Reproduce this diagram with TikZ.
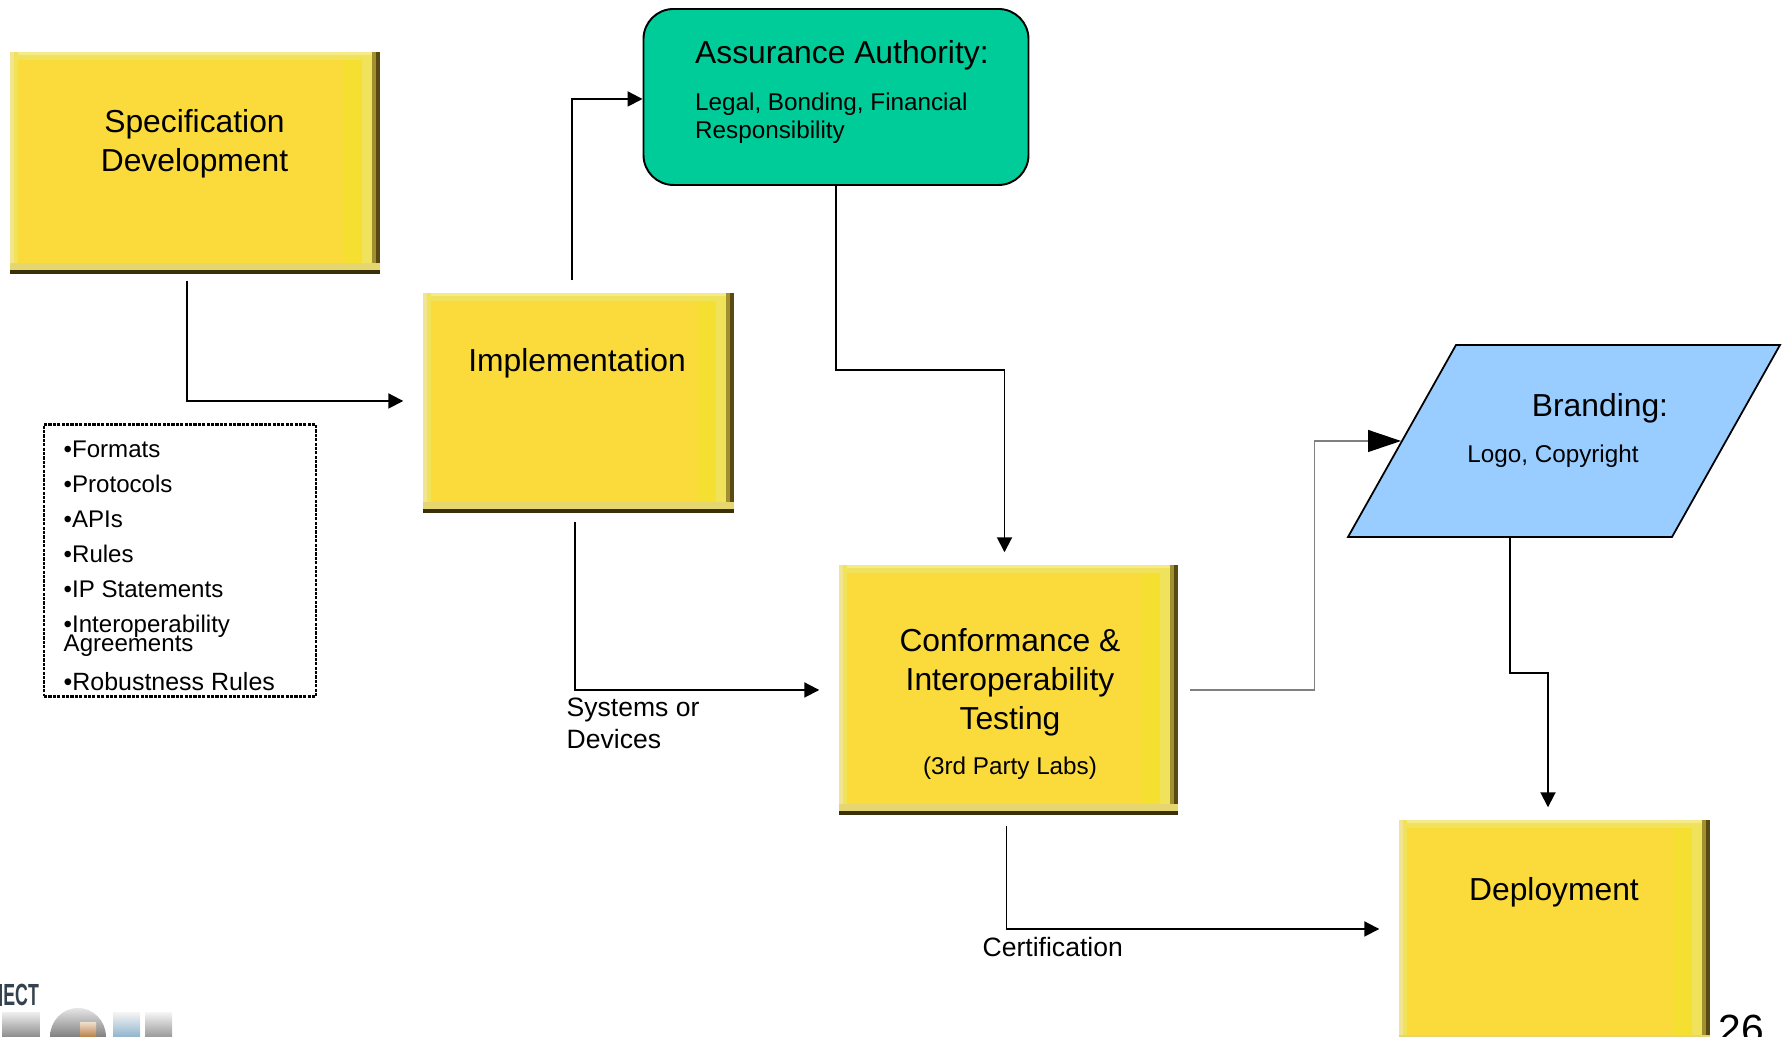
\documentclass[tikz,border=0pt]{standalone}
\usepackage{fontspec}
\setmainfont{Liberation Sans}
\definecolor{boxmain}{HTML}{FBDB3C}
\definecolor{boxband}{HTML}{F5DF30}
\definecolor{boxpale}{HTML}{F0E25A}
\definecolor{boxolive}{HTML}{A09030}
\definecolor{boxdark}{HTML}{5A4A10}
\definecolor{boxdarker}{HTML}{3A3008}
\definecolor{boxtan}{HTML}{E6D670}
\definecolor{boxtop}{HTML}{F6EA88}
\definecolor{boxleft}{HTML}{F2E490}
\definecolor{assurgreen}{HTML}{00CC99}
\definecolor{brandblue}{HTML}{99CCFF}
\definecolor{logoslate}{HTML}{34434F}
\definecolor{logoblue}{HTML}{8FB4CC}
\usetikzlibrary{arrows.meta,positioning,calc}
\tikzset{
    bevelbox/.style={fill=boxmain, inner sep=0pt, path picture={
        \fill[boxband] ([xshift=-.36cm]path picture bounding box.north east) rectangle (path picture bounding box.south east);
        \fill[boxpale] ([xshift=-.18cm]path picture bounding box.north east) rectangle (path picture bounding box.south east);
        \fill[boxpale] (path picture bounding box.north west) rectangle ([yshift=-.08cm]path picture bounding box.north east);
        \fill[boxtop] (path picture bounding box.north west) rectangle ([yshift=-.03cm]path picture bounding box.north east);
        \fill[boxpale] (path picture bounding box.north west) rectangle ([xshift=.08cm]path picture bounding box.south west);
        \fill[boxleft] (path picture bounding box.north west) rectangle ([xshift=.04cm]path picture bounding box.south west);
        \fill[boxolive] ([xshift=-.08cm]path picture bounding box.north east) rectangle (path picture bounding box.south east);
        \fill[boxdark] ([xshift=-.04cm]path picture bounding box.north east) rectangle (path picture bounding box.south east);
        \fill[boxtan] (path picture bounding box.south west) rectangle ([yshift=.11cm]path picture bounding box.south east);
        \fill[boxdarker] (path picture bounding box.south west) rectangle ([yshift=.035cm]path picture bounding box.south east);
    }},
    bigtext/.style={inner sep=0pt, font=\fontsize{9.05}{11.1}\selectfont, align=center},
    smalltext/.style={inner sep=0pt, font=\fontsize{6.9}{8.1}\selectfont, align=left},
    labeltext/.style={inner sep=0pt, font=\fontsize{7.55}{9.1}\selectfont, align=left},
    flow/.style={line width=.55pt, -{Triangle[length=.15cm,width=.15cm]}},
}
\begin{document}
\begin{tikzpicture}
    \clip (0,0) rectangle (17.83,10.37);

    % Boxes
    \node[bevelbox, minimum width=3.70cm, minimum height=2.22cm] (spec) at (1.95,8.74) {};
    \node[bevelbox, minimum width=3.11cm, minimum height=2.20cm] (impl) at (5.785,6.34) {};
    \node[bevelbox, minimum width=3.39cm, minimum height=2.50cm] (conf) at (10.085,3.47) {};
    \node[bevelbox, minimum width=3.11cm, minimum height=2.26cm] (deploy) at (15.545,1.04) {};
    \node[draw, line width=.55pt, fill=assurgreen, rounded corners=.3cm, minimum width=3.85cm, minimum height=1.76cm] (assur) at (8.36,9.40) {};

    % Branding
    \draw[line width=.5pt, fill=brandblue] (14.56,6.92) -- (17.80,6.92) -- (16.72,5.00) -- (13.48,5.00) -- cycle;
    \coordinate (brandin) at (14.01,5.96);
    \coordinate (brandout) at (15.10,5.00);

    % Texts
    \node[bigtext] (spectext) at (1.945,8.935) {Specification\\Development};
    \node[bigtext] (impltext) at (5.77,6.735) {Implementation};
    \node[bigtext, anchor=west] (assurtitle) at (6.945,9.815) {Assurance Authority:};
    \node[smalltext, anchor=west] (assurtext) at (6.945,9.19) {Legal, Bonding, Financial\\Responsibility};
    \node[bigtext] (conftext) at (10.10,3.55) {Conformance \&\\Interoperability\\Testing};
    \node[smalltext] (labstext) at (10.10,2.685) {(3rd Party Labs)};
    \node[bigtext] (brandtitle) at (16.00,6.29) {Branding:};
    \node[smalltext] (brandtext) at (15.53,5.81) {Logo, Copyright};
    \node[bigtext] (deploytext) at (15.54,1.445) {Deployment};

    % Requirements list
    \node[draw, line width=.6pt, dash pattern=on .9pt off .35pt, minimum width=2.72cm, minimum height=2.72cm] (reqbox) at (1.80,4.765) {};
    \node[inner sep=0pt, anchor=base west, font=\fontsize{6.85}{9.96}\selectfont, align=left] (reqtext) at (.63,3.465) {%
        •Formats\\•Protocols\\•APIs\\•Rules\\•IP Statements\\•Interoperability\\[-.155cm]Agreements\\[.036cm]\fontsize{7.1}{9.96}\selectfont •Robustness Rules};

    % Connections
    \draw[flow, shorten <=.06cm, shorten >=.19cm] ([xshift=-.08cm]spec.south) |- ([yshift=.02cm]impl.west);
    \draw[flow, shorten <=.12cm] ([xshift=-.065cm]impl.north) |- ([yshift=-.02cm]assur.west);
    \draw[flow, shorten <=.08cm, shorten >=.19cm] ([xshift=-.035cm]impl.south) |- (conf.west);
    \draw[flow, shorten >=.12cm] (assur.south) -- ++(0,-1.84) -| ([xshift=-.04cm]conf.north);
    \draw[draw=black!50, line width=.35pt, shorten <=.11cm, -{Triangle[length=.33cm,width=.22cm,black]}] (conf.east) -- ++(1.36,0) |- (brandin);
    \draw[flow, shorten >=.12cm] (brandout) -- ++(0,-1.36) -| ([xshift=-.065cm]deploy.north);
    \draw[flow, shorten <=.10cm, shorten >=.19cm] ([xshift=-.02cm]conf.south) |- ([yshift=.04cm]deploy.west);

    % Connector labels
    \node[labeltext, anchor=west] (devlabel) at (5.66,3.14) {Systems or\\Devices};
    \node[labeltext, anchor=west] (certlabel) at (9.82,.90) {Certification};

    % Page number
    \node[inner sep=0pt, anchor=base west, font=\fontsize{11.6}{14}\selectfont] (pagenum) at (17.18,-.07) {26};

    % Logo fragment
    \node[inner sep=0pt, anchor=west, xscale=.58, transform shape, text=logoslate, font=\fontsize{8.7}{10}\selectfont\bfseries] (logotext) at (.03,.42) {ECT};
    \fill[logoslate] (0,.31) rectangle (.02,.53);
    \shade[top color=black!8, bottom color=black!45] (.02,0) rectangle (.40,.24);
    \shade[top color=black!10, bottom color=black!50] (.50,0) arc[start angle=180, end angle=0, x radius=.28cm, y radius=.29cm] -- cycle;
    \shade[top color=brown!30, bottom color=brown!90!gray] (.80,0) rectangle (.96,.14);
    \shade[top color=black!5, bottom color=logoblue] (1.13,0) rectangle (1.40,.24);
    \shade[top color=black!5, bottom color=black!40] (1.45,0) rectangle (1.72,.24);
\end{tikzpicture}
\end{document}
